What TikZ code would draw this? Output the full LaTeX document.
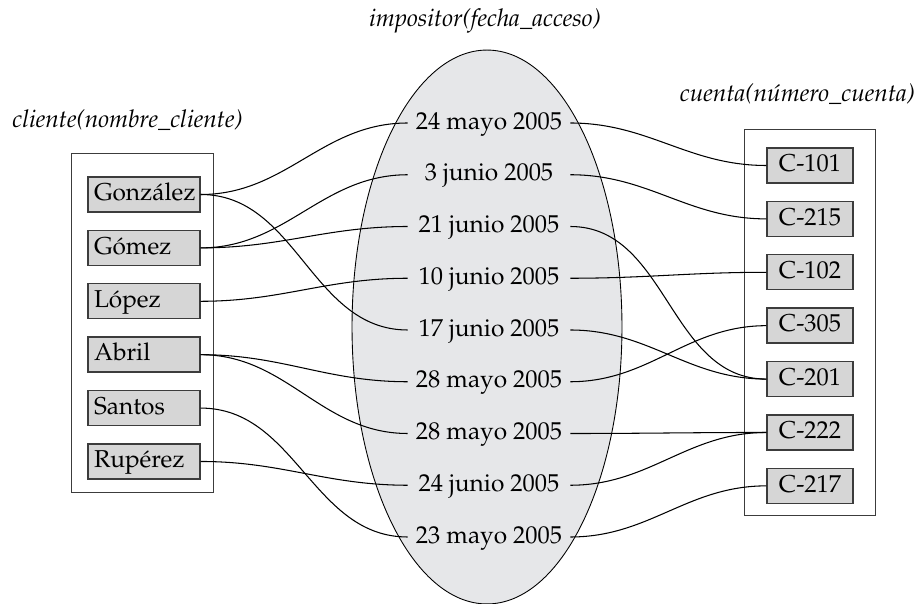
\documentclass[tikz,border=0pt]{standalone}
\usepackage[T1]{fontenc}
\usepackage{mathpazo}
\usepackage{tikz}
\usetikzlibrary{positioning}

\definecolor{grisCaja}{RGB}{214,214,214}
\definecolor{grisElipse}{RGB}{230,231,233}
\definecolor{borde}{RGB}{60,60,60}

\tikzset{
    letra/.style={font=\fontsize{13.9}{16}\selectfont},
    caja/.style={letra, draw=borde, fill=grisCaja, line width=0.8pt, text height=0.35cm, text depth=0.1cm, minimum height=0.7cm, inner ysep=0pt},
    cliente/.style={caja, text width=2.0cm, align=left, inner xsep=0.12cm},
    cuenta/.style={caja, minimum width=1.72cm, inner xsep=0pt},
    fecha/.style={letra, minimum width=3.24cm, inner sep=0pt, text height=0.35cm, text depth=0.1cm},
    titulo/.style={font=\fontsize{13.9}{16}\selectfont\itshape, anchor=base},
    enlace/.style={line width=0.6pt, out=0, in=180}
}

\begin{document}
\begin{tikzpicture}[x=0.02cm, y=-0.02cm]
    % Parámetros
    \def\sep{0.34cm}        % separación entre cajas
    \def\pasoFecha{51.75}   % paso vertical entre fechas
    \useasboundingbox (0,0) rectangle (917,604);

    % Títulos
    \node[titulo] (tcliente) at (127.5,128) {cliente(nombre\_cliente)};
    \node[titulo] (timpositor) at (485,27) {impositor(fecha\_acceso)};
    \node[titulo] (tcuenta) at (797.5,101.7) {cuenta(número\_cuenta)};

    % Elipse de impositor
    \draw[fill=grisElipse, line width=0.5pt] (487,327) ellipse [x radius=2.7cm, y radius=5.54cm];

    % Relación cliente
    \draw[borde, line width=0.5pt] (71,153) rectangle (213,492);
    \node[cliente] (gonzalez) at (144,194.5) {González};
    \node[cliente, below=\sep of gonzalez] (gomez) {Gómez};
    \node[cliente, below=\sep of gomez] (lopez) {López};
    \node[cliente, below=\sep of lopez] (abril) {Abril};
    \node[cliente, below=\sep of abril] (santos) {Santos};
    \node[cliente, below=\sep of santos] (ruperez) {Rupérez};

    % Relación cuenta
    \draw[borde, line width=0.5pt] (744,129) rectangle (875,515);
    \node[cuenta] (c101) at (810,165.5) {C-101};
    \node[cuenta, below=\sep of c101] (c215) {C-215};
    \node[cuenta, below=\sep of c215] (c102) {C-102};
    \node[cuenta, below=\sep of c102] (c305) {C-305};
    \node[cuenta, below=\sep of c305] (c201) {C-201};
    \node[cuenta, below=\sep of c201] (c222) {C-222};
    \node[cuenta, below=\sep of c222] (c217) {C-217};

    % Fechas de acceso
    \foreach \nombre/\texto [count=\i] in {f1/24 mayo 2005, f2/3 junio 2005, f3/21 junio 2005,
            f4/10 junio 2005, f5/17 junio 2005, f6/28 mayo 2005, f7/28 mayo 2005,
            f8/24 junio 2005, f9/23 mayo 2005}
        \node[fecha] (\nombre) at (489, 71.25+\pasoFecha*\i) {\texto};

    % Enlaces cliente - impositor
    \draw[enlace] (gonzalez.east) to (f1.west);
    \draw[enlace] (gonzalez.east) to (f5.west);
    \draw[enlace] (gomez.east) to (f2.west);
    \draw[enlace] (gomez.east) to (f3.west);
    \draw[enlace] (lopez.east) to (f4.west);
    \draw[enlace] (abril.east) to (f6.west);
    \draw[enlace] (abril.east) to (f7.west);
    \draw[enlace] (santos.east) to (f9.west);
    \draw[enlace] (ruperez.east) to (f8.west);

    % Enlaces impositor - cuenta
    \draw[enlace] (f1.east) to (c101.west);
    \draw[enlace] (f2.east) to (c215.west);
    \draw[enlace] (f3.east) to (c201.west);
    \draw[enlace] (f4.east) to (c102.west);
    \draw[enlace] (f5.east) to (c201.west);
    \draw[enlace] (f6.east) to (c305.west);
    \draw[enlace] (f7.east) to (c222.west);
    \draw[enlace] (f8.east) to (c222.west);
    \draw[enlace] (f9.east) to (c217.west);
\end{tikzpicture}
\end{document}
